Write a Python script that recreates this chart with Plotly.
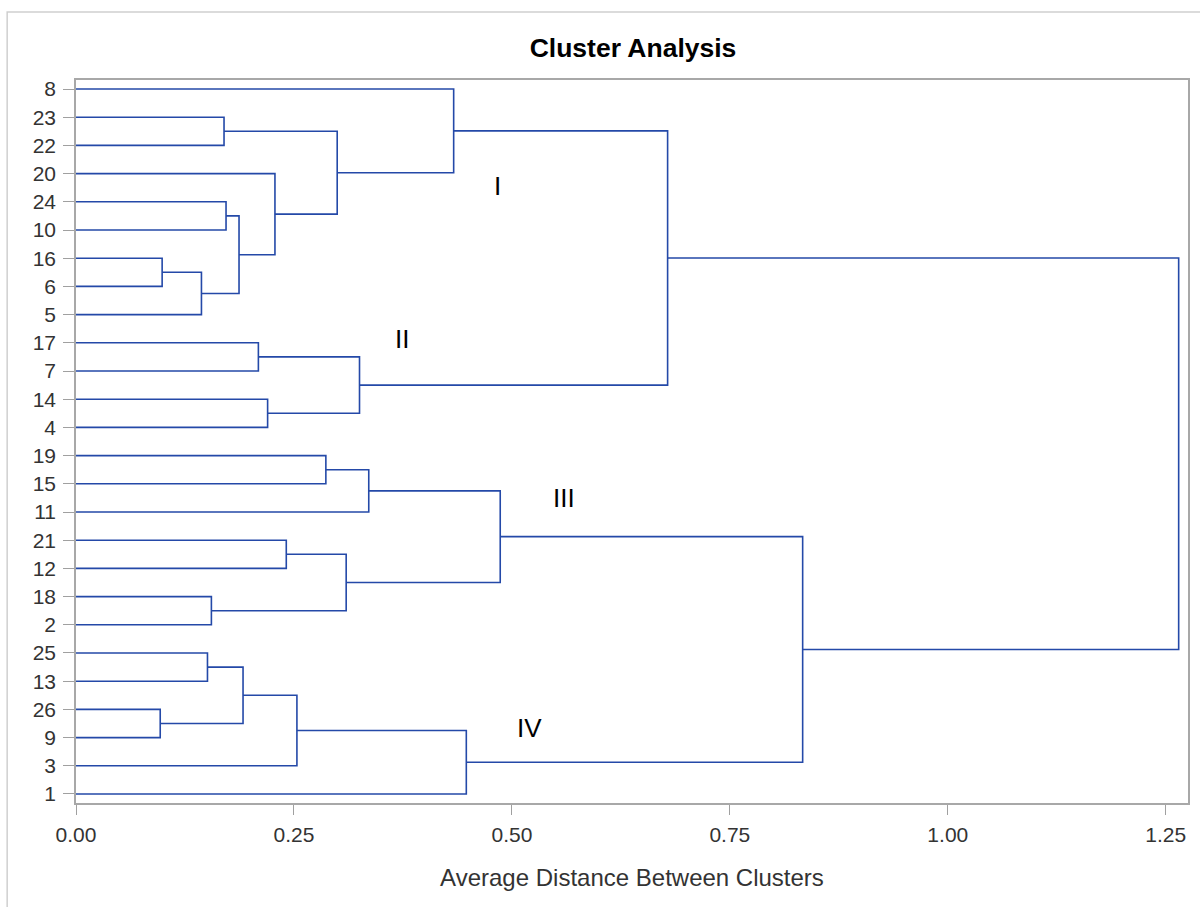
import plotly.graph_objects as go

# Leaf order from top to bottom of the dendrogram
leaf_labels = ["8", "23", "22", "20", "24", "10", "16", "6", "5", "17", "7", "14", "4",
               "19", "15", "11", "21", "12", "18", "2", "25", "13", "26", "9", "3", "1"]

# Merge steps: (left child, right child, average distance).
# Children are leaf labels (str) or indices of earlier merges (int).
merges = [
    ("26", "9", 0.0966),    # 0
    ("16", "6", 0.0988),    # 1
    (1, "5", 0.1439),       # 2
    ("25", "13", 0.1508),   # 3
    ("18", "2", 0.1553),    # 4
    ("23", "22", 0.1698),   # 5
    ("24", "10", 0.1721),   # 6
    (6, 2, 0.1870),         # 7
    (3, 0, 0.1916),         # 8
    ("17", "7", 0.2092),    # 9
    ("14", "4", 0.2198),    # 10
    ("20", 7, 0.2282),      # 11
    ("21", "12", 0.2412),   # 12
    (8, "3", 0.2534),       # 13
    ("19", "15", 0.2866),   # 14
    (5, 11, 0.2996),        # 15
    (12, 4, 0.3099),        # 16
    (9, 10, 0.3252),        # 17
    (14, "11", 0.3358),     # 18
    ("8", 15, 0.4332),      # 19
    (13, "1", 0.4477),      # 20
    (18, 16, 0.4866),       # 21
    (19, 17, 0.6786),       # 22
    (21, 20, 0.8335),       # 23
    (22, 23, 1.2648),       # 24
]

# Cluster annotations
cluster_names = ["I", "II", "III", "IV"]
cluster_x = [0.483, 0.374, 0.560, 0.520]
cluster_y = [3.45, 8.85, 14.5, 22.65]

x_ticks = [0.0, 0.25, 0.5, 0.75, 1.0, 1.25]
x_tick_text = ["0.00", "0.25", "0.50", "0.75", "1.00", "1.25"]

LINE = "#2449a8"
FONT = "Liberation Sans, Arial"

leaf_pos = {lab: i for i, lab in enumerate(leaf_labels)}
node_pos = []   # (y, height) of each merge
xs, ys = [], []


def locate(child):
    if isinstance(child, str):
        return leaf_pos[child], 0.0
    return node_pos[child]


for a, b, h in merges:
    ya, ha = locate(a)
    yb, hb = locate(b)
    xs += [ha, h, h, hb, None]
    ys += [ya, ya, yb, yb, None]
    node_pos.append(((ya + yb) / 2.0, h))

fig = go.Figure()
fig.add_trace(go.Scatter(
    x=xs, y=ys, mode="lines",
    line=dict(color=LINE, width=1.6),
    hoverinfo="skip", showlegend=False,
))

for name, cx, cy in zip(cluster_names, cluster_x, cluster_y):
    fig.add_annotation(x=cx, y=cy, text=name, showarrow=False,
                       font=dict(family=FONT, size=26, color="#000000"))

# Light outer frame around the graph area
fig.add_shape(type="rect", xref="paper", yref="paper",
              x0=-0.0619, x1=1.2, y0=-0.2, y1=1.094,
              line=dict(color="#cfcfcf", width=1.5), fillcolor="rgba(0,0,0,0)", layer="below")

axis_font = dict(family=FONT, size=21, color="#333333")

fig.update_layout(
    width=1200, height=907,
    margin=dict(l=76, r=10, t=80, b=104),
    paper_bgcolor="white", plot_bgcolor="white",
    title=dict(text="<b>Cluster Analysis</b>", x=633 / 1200, xanchor="center",
               y=1 - 48 / 907, yanchor="middle",
               font=dict(family=FONT, size=26.5, color="#000000")),
    xaxis=dict(
        range=[0, 1.2755], tickvals=x_ticks, ticktext=x_tick_text,
        ticks="outside", ticklen=10, tickcolor="#a0a0a0", tickwidth=1,
        showgrid=False, zeroline=False,
        showline=True, linecolor="#a8a8a8", linewidth=1.5, mirror=True,
        tickfont=axis_font, ticklabelstandoff=2,
        title=dict(text="Average Distance Between Clusters", standoff=24,
                   font=dict(family=FONT, size=24, color="#333333")),
    ),
    yaxis=dict(
        range=[25.32, -0.32], tickvals=list(range(len(leaf_labels))), ticktext=leaf_labels,
        ticks="outside", ticklen=11, tickcolor="#a0a0a0", tickwidth=1,
        showgrid=False, zeroline=False,
        showline=True, linecolor="#a8a8a8", linewidth=1.5, mirror=True,
        tickfont=axis_font, ticklabelstandoff=3,
    ),
)

fig.write_html("out.html")
